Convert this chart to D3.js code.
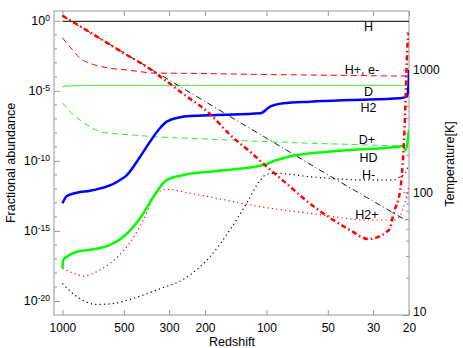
<!DOCTYPE html>
<html>
<head>
<meta charset="utf-8">
<script src="https://cdn.jsdelivr.net/npm/d3@7"></script>
<style>
  body { margin: 0; background: #fff; }
  text { font-family: "Liberation Sans", Arial, sans-serif; fill: #000; }
</style>
</head>
<body>
<svg id="chart" width="463" height="348"></svg>
<script>
// abundances are stored as log10(fraction)
const hZ = [1000, 20];
const hAb = [-0.036, -0.036];

const hpZ = [1000, 951, 917, 819, 732, 584, 483, 416, 358, 211, 120, 61, 38.9, 22.1, 20];
const hpAb = [-1.21, -1.61, -1.87, -2.68, -3.03, -3.39, -3.51, -3.63, -3.73, -3.76, -3.82, -3.87, -3.90, -3.94, -3.94];

const dZ = [1000, 950, 800, 20];
const dAb = [-4.73, -4.65, -4.62, -4.62];

const dpZ = [1000, 917, 819, 732, 653, 584, 450, 358, 237, 120, 61, 38.9, 21.7, 20];
const dpAb = [-5.85, -6.49, -7.08, -7.56, -7.92, -8.03, -8.15, -8.27, -8.39, -8.58, -8.74, -8.82, -8.92, -8.87];

const h2Z = [1000, 951, 850, 732, 653, 606, 521, 483, 416, 358, 332, 308, 265, 237, 175, 107, 96, 82.5, 61, 38.9, 22.1, 20.5, 20.1, 20];
const h2Ab = [-13.03, -12.51, -12.27, -12.13, -11.96, -11.83, -11.36, -11.01, -9.70, -8.27, -7.65, -7.20, -6.89, -6.80, -6.72, -6.60, -6.13, -5.89, -5.77, -5.65, -5.53, -5.42, -4.58, -3.51];

const hdZ = [1000, 989, 951, 850, 705, 584, 502, 416, 358, 308, 255, 175, 103.5, 89, 71, 61, 38.9, 22.1, 21.5, 20.8, 20];
const hdAb = [-17.67, -17.07, -16.84, -16.48, -16.31, -16.00, -15.41, -14.10, -12.56, -11.36, -11.01, -10.72, -10.29, -9.94, -9.58, -9.46, -9.22, -8.97, -8.92, -9.22, -7.79];

const hmZ = [1000, 850, 678, 584, 449, 372, 332, 255, 189, 151, 125, 107, 99.5, 89, 61, 32.2, 23.8, 22.1, 20.9, 20.1];
const hmAb = [-18.75, -19.69, -20.24, -20.21, -19.81, -19.40, -19.12, -18.45, -16.84, -14.93, -13.03, -11.36, -10.94, -10.89, -11.13, -11.36, -11.36, -11.13, -10.9, -10.3];

const h2pZ = [1000, 883, 789, 705, 584, 483, 401, 345, 308, 237, 175, 120, 82.5, 61, 47, 32.2, 23.8, 22.6, 21.5, 20.5, 20];
const h2pAb = [-17.67, -18.02, -18.22, -18.02, -17.31, -16.12, -14.22, -12.31, -12.03, -12.31, -12.67, -13.15, -13.51, -13.74, -13.98, -14.22, -14.22, -14.08, -13.51, -12.43, -11.72];

// temperatures in K
const tcmbZ = [1000, 500, 200, 100, 50, 20];
const tcmb = [2733, 1368, 549, 276, 139, 57.3];

const tgasZ = [1000, 650, 500, 372, 332, 255, 189, 151, 120, 96, 76, 63.4, 47, 38.9, 31.6, 25.7, 24.8, 23.8, 22.1, 21.5, 21.0, 20.65, 20.35, 20.1];
const tgas = [2750, 1780, 1360, 1009, 878, 632, 434, 295, 213, 153, 110, 84.8, 59.4, 49.2, 41.6, 47.7, 50.8, 67.3, 104, 167, 353, 822, 1585, 1977];

const xTicks = [1000, 500, 300, 200, 100, 50, 30, 20];
const yTicks = [0, -5, -10, -15, -20];
const tTicks = [10, 100, 1000];

const labelNames = ["H", "H+, e-", "D", "H2", "D+", "HD", "H-", "H2+"];
const labelZ = [31.6, 34, 31.6, 31.6, 32.2, 31.6, 31.6, 32.2];
const labelAb = [-0.44, -3.45, -5.08, -6.22, -8.50, -9.79, -11.01, -13.86];

const svg = d3.select("#chart");
const L = 54, R = 409, T = 11, B = 315;
const frameColor = "#999";

const x = d3.scaleLog().domain([1100, 20]).range([L, R]);
const y = d3.scaleLog().domain([1e-21, 5]).range([B, T]);
const yT = d3.scaleLog().domain([10, 3000]).range([B, T]);

svg.append("defs").append("clipPath").attr("id", "clip")
  .append("rect").attr("x", L).attr("y", T).attr("width", R - L).attr("height", B - T);

// axes
const axBottom = svg.append("g").attr("transform", `translate(0,${B})`)
  .call(d3.axisBottom(x).tickValues(xTicks).tickFormat(d3.format("d")).tickSize(-5).tickPadding(8));
const axTop = svg.append("g").attr("transform", `translate(0,${T})`)
  .call(d3.axisTop(x).tickValues(xTicks).tickFormat("").tickSize(-5));
const axLeft = svg.append("g").attr("transform", `translate(${L},0)`)
  .call(d3.axisLeft(y).tickValues(yTicks.map(v => Math.pow(10, v))).tickSize(-6).tickPadding(4));
const axRight = svg.append("g").attr("transform", `translate(${R},0)`)
  .call(d3.axisRight(yT).tickValues(tTicks).tickFormat(d3.format("d")).tickSize(-6).tickPadding(4));

[axBottom, axTop, axLeft, axRight].forEach(g => {
  g.select(".domain").remove();
  g.selectAll(".tick line").attr("stroke", frameColor);
  g.selectAll(".tick text").attr("font-size", 12).attr("font-family", null);
});

// 10^n labels
axLeft.selectAll(".tick text").each(function(d) {
  const t = d3.select(this).text(null).attr("font-size", 12.5);
  t.append("tspan").text("10");
  t.append("tspan").attr("font-size", 8.5).attr("dy", "-0.5em").text(Math.round(Math.log10(d)));
});
axRight.selectAll(".tick text").filter(d => d === 10).attr("y", -3);

// minor ticks
const minorY = d3.range(-20, 1).filter(v => v % 5 !== 0);
axLeft.selectAll(".minor").data(minorY).join("line")
  .attr("x1", 0).attr("x2", 3)
  .attr("y1", d => y(Math.pow(10, d))).attr("y2", d => y(Math.pow(10, d)))
  .attr("stroke", frameColor);

const minorT = [20, 30, 40, 50, 60, 70, 80, 90, 200, 300, 400, 500, 600, 700, 800, 900, 2000];
axRight.selectAll(".minor").data(minorT).join("line")
  .attr("x1", 0).attr("x2", -3)
  .attr("y1", d => yT(d)).attr("y2", d => yT(d))
  .attr("stroke", frameColor);

svg.append("rect").attr("x", L).attr("y", T).attr("width", R - L).attr("height", B - T)
  .attr("fill", "none").attr("stroke", frameColor);

// curves
const plot = svg.append("g").attr("clip-path", "url(#clip)");
const abLine = d3.line().x(d => x(d[0])).y(d => y(Math.pow(10, d[1]))).curve(d3.curveMonotoneX);
const tLine = d3.line().x(d => x(d[0])).y(d => yT(d[1])).curve(d3.curveMonotoneX);

const series = [
  {z: hZ, v: hAb, color: "#000", w: 1, dash: null, fn: abLine},
  {z: hpZ, v: hpAb, color: "#ff0000", w: 1, dash: "6,4", fn: abLine},
  {z: dZ, v: dAb, color: "#55ee55", w: 1.2, dash: null, fn: abLine},
  {z: dpZ, v: dpAb, color: "#33ee33", w: 1, dash: "6,4", fn: abLine},
  {z: tcmbZ, v: tcmb, color: "#000", w: 0.9, dash: "6,3,1,3", fn: tLine},
  {z: hmZ, v: hmAb, color: "#000", w: 1.2, dash: "1.2,3.2", fn: abLine},
  {z: h2pZ, v: h2pAb, color: "#ff0000", w: 1.2, dash: "1.2,3.2", fn: abLine},
  {z: h2Z, v: h2Ab, color: "#0000ff", w: 2.5, dash: null, fn: abLine},
  {z: hdZ, v: hdAb, color: "#00ff00", w: 2.5, dash: null, fn: abLine},
  {z: tgasZ, v: tgas, color: "#ff0000", w: 2.5, dash: "5,3,1.5,3", fn: tLine}
];

series.forEach(s => {
  plot.append("path")
    .datum(s.z.map((z, i) => [z, s.v[i]]))
    .attr("d", s.fn)
    .attr("fill", "none")
    .attr("stroke", s.color)
    .attr("stroke-width", s.w)
    .attr("stroke-dasharray", s.dash);
});

// species names
svg.selectAll(".lbl").data(labelNames).join("text")
  .attr("x", (d, i) => x(labelZ[i]))
  .attr("y", (d, i) => y(Math.pow(10, labelAb[i])))
  .attr("dy", "0.35em")
  .attr("text-anchor", "middle")
  .attr("font-size", 12.5)
  .text(d => d);

// titles
svg.append("text").attr("x", 232).attr("y", 346).attr("text-anchor", "middle")
  .attr("font-size", 12.5).text("Redshift");
svg.append("text").attr("transform", "translate(11,163) rotate(-90)").attr("dy", "0.35em")
  .attr("text-anchor", "middle").attr("font-size", 12.5).text("Fractional abundance");
svg.append("text").attr("transform", "translate(450,164) rotate(-90)").attr("dy", "0.35em")
  .attr("text-anchor", "middle").attr("font-size", 12.5).text("Temperature[K]");
</script>
</body>
</html>
